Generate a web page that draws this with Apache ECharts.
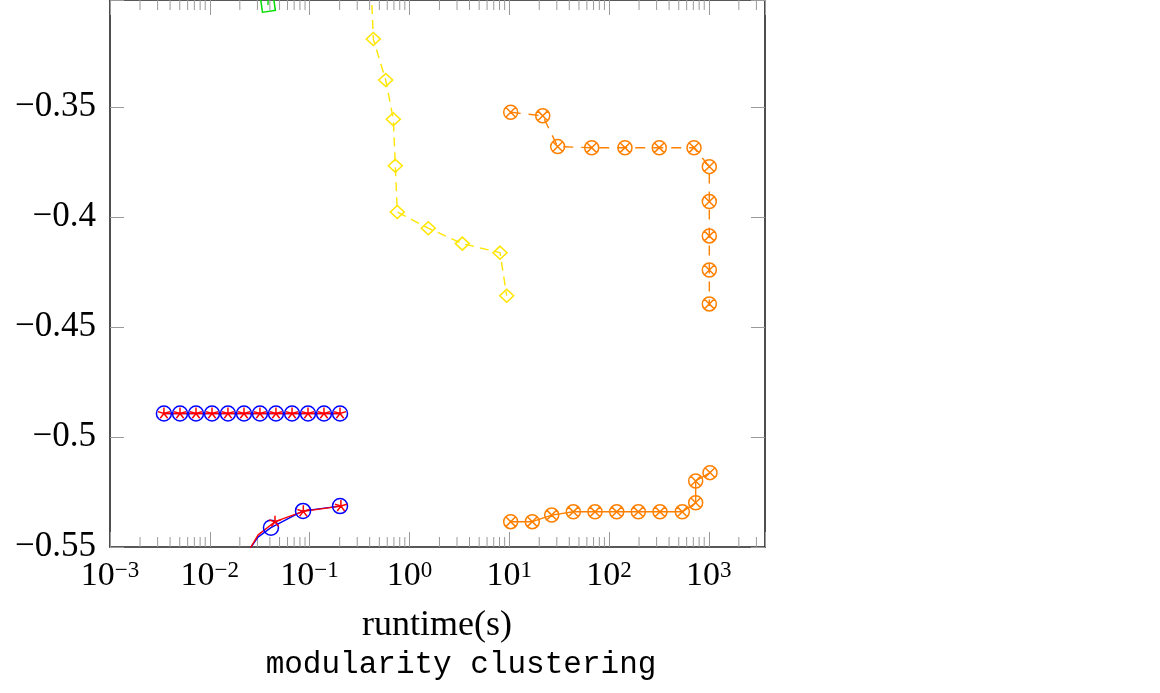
<!DOCTYPE html>
<html>
<head>
<meta charset="utf-8">
<script src="https://cdn.jsdelivr.net/npm/echarts@6/dist/echarts.min.js"></script>
<style>
html, body { margin: 0; padding: 0; background: #fff; }
#chart { width: 1160px; height: 693px; }
</style>
</head>
<body>
<div id="chart"></div>
<script>
// flat run (blue circles + red stars)
const flatX = [0.00347, 0.00503, 0.00727, 0.01052, 0.0152, 0.0220, 0.0318, 0.0460, 0.0667, 0.0964, 0.1393, 0.2018]
const flatY = [-0.4893, -0.4893, -0.4893, -0.4893, -0.4893, -0.4893, -0.4893, -0.4893, -0.4893, -0.4893, -0.4893, -0.4893]

// rising curves near the bottom
const blueX = [0.0235, 0.0259, 0.0304, 0.041, 0.0859, 0.2018]
const blueY = [-0.556, -0.5500, -0.5455, -0.5412, -0.5336, -0.5314]
const redX = [0.023, 0.0255, 0.0305, 0.045, 0.0865, 0.206]
const redY = [-0.557, -0.5505, -0.5445, -0.5385, -0.5338, -0.5314]

// green (only one mark in view)
const greenX = [0.0383, 0.0386]
const greenY = [-0.3036, -0.29]

// yellow dashed
const yellowX = [0.4095, 0.4348, 0.5786, 0.6897, 0.7225, 0.7562, 1.547, 3.389, 8.087, 9.44]
const yellowY = [-0.29, -0.3191, -0.3377, -0.3556, -0.3767, -0.3977, -0.4051, -0.4121, -0.4162, -0.4358]

// orange dashed (upper)
const orangeTopX = [10.35, 21.67, 30.6, 67.1, 144.6, 319, 710.9, 1012, 1012, 1012, 1012, 1012]
const orangeTopY = [-0.3524, -0.3540, -0.3680, -0.3685, -0.3685, -0.3685, -0.3685, -0.3771, -0.3930, -0.4086, -0.4241, -0.4395]

// orange solid (lower)
const orangeBotX = [10.35, 17.04, 26.67, 43.9, 72.4, 119.4, 196.7, 324.3, 542.7, 739, 739, 1028]
const orangeBotY = [-0.5385, -0.5385, -0.5355, -0.5340, -0.5340, -0.5340, -0.5340, -0.5340, -0.5340, -0.5299, -0.5200, -0.5162]

// axes
const xMin = 0.001
const xMax = 3657
const yMin = -0.55
const yMax = -0.30136
const yStep = 0.05
const decades = [0.001, 0.01, 0.1, 1, 10, 100, 1000]
const minorSteps = [2, 3, 4, 5, 6, 7, 8, 9]

const minorTicks = []
decades.forEach(d => minorSteps.forEach(m => {
  const v = d * m
  if (v < xMax) minorTicks.push(v)
}))

const zip = (xs, ys) => xs.map((x, i) => [x, ys[i]])

const starPath = 'path://M10,10L10,0M10,10L19.51,6.91M10,10L15.88,18.09M10,10L4.12,18.09M10,10L0.49,6.91M10,20L10,20'
const otimesPath = 'path://M0,10A10,10,0,1,1,20,10A10,10,0,1,1,0,10ZM2.93,2.93L17.07,17.07M17.07,2.93L2.93,17.07'

const serif = '"Liberation Serif", "DejaVu Serif", serif'
const tickGrey = '#9a9a9a'
const spine = { show: true, onZero: false, lineStyle: { color: '#222', width: 1.6 } }

const xLabel = (v) => {
  const e = Math.log10(v)
  if (Math.abs(e - Math.round(e)) > 1e-6) return ''
  const n = Math.round(e)
  return '{b|10}{s|' + (n < 0 ? '\u2212' + (-n) : n) + '}'
}
const yLabel = (v) => {
  const k = v / yStep
  if (Math.abs(k - Math.round(k)) > 1e-6) return ''
  const r = Math.round(v * 100) / 100
  return String(r).replace('-', '\u2212')
}

const lineSeries = (name, xs, ys, color, symbol, size, dash, extra) => Object.assign({
  name,
  type: 'line',
  data: zip(xs, ys),
  symbol,
  symbolSize: size,
  showAllSymbol: true,
  clip: true,
  lineStyle: { color, width: 1.4, type: dash },
  itemStyle: { color: 'transparent', borderColor: color, borderWidth: 1.5 },
  emphasis: { disabled: true },
  animation: false
}, extra || {})

const chart = echarts.init(document.getElementById('chart'))
const option = {
  backgroundColor: '#fff',
  animation: false,
  grid: { left: 110, top: 0, width: 655, height: 547 },
  xAxis: [
    {
      type: 'log',
      min: xMin,
      max: xMax,
      position: 'bottom',
      axisLine: spine,
      axisTick: { show: true, inside: true, length: 15, lineStyle: { color: tickGrey, width: 1 } },
      splitLine: { show: false },
      axisLabel: {
        margin: 12,
        formatter: xLabel,
        rich: {
          b: { fontFamily: serif, fontSize: 34, color: '#000', lineHeight: 34 },
          s: { fontFamily: serif, fontSize: 23, color: '#000', lineHeight: 23, verticalAlign: 'top' }
        }
      }
    },
    {
      type: 'log',
      min: xMin,
      max: xMax,
      position: 'top',
      axisLine: spine,
      axisTick: { show: true, inside: true, length: 15, lineStyle: { color: tickGrey, width: 1 } },
      splitLine: { show: false },
      axisLabel: { show: false }
    }
  ],
  yAxis: [
    {
      type: 'value',
      min: yMin,
      max: yMax,
      interval: yStep,
      position: 'left',
      axisLine: spine,
      axisTick: { show: true, inside: true, length: 14, lineStyle: { color: tickGrey, width: 1 } },
      splitLine: { show: false },
      axisLabel: { margin: 14, formatter: yLabel, fontFamily: serif, fontSize: 35, color: '#000' }
    },
    {
      type: 'value',
      min: yMin,
      max: yMax,
      interval: yStep,
      position: 'right',
      axisLine: spine,
      axisTick: { show: true, inside: true, length: 14, lineStyle: { color: tickGrey, width: 1 } },
      splitLine: { show: false },
      axisLabel: { show: false }
    }
  ],
  series: [
    {
      type: 'custom',
      silent: true,
      data: minorTicks.map(v => [v, -0.5]),
      renderItem: (params, api) => {
        const x = api.coord([api.value(0), -0.5])[0]
        const top = params.coordSys.y
        const bottom = top + params.coordSys.height
        const st = { stroke: tickGrey, lineWidth: 1 }
        return {
          type: 'group',
          children: [
            { type: 'line', shape: { x1: x, y1: bottom, x2: x, y2: bottom - 10 }, style: st },
            { type: 'line', shape: { x1: x, y1: top, x2: x, y2: top + 10 }, style: st }
          ]
        }
      }
    },
    lineSeries('blue flat', flatX, flatY, '#0000ff', 'circle', 15, 'solid'),
    lineSeries('red flat', flatX, flatY, '#ff0000', starPath, 12, 'solid'),
    lineSeries('blue curve', blueX, blueY, '#0000ff', 'circle', (v, p) => (p.dataIndex < 3 ? 0 : 15), 'solid'),
    lineSeries('red curve', redX, redY, '#ff0000', starPath, (v, p) => (p.dataIndex < 3 ? 0 : 12), 'solid'),
    lineSeries('green', greenX, greenY, '#00dd00', 'rect', 13, 'solid', { symbolRotate: 8 }),
    lineSeries('yellow', yellowX, yellowY, '#ffe600', 'diamond', [14, 13], [9, 6]),
    lineSeries('orange top', orangeTopX, orangeTopY, '#ff8000', otimesPath, 14, [10, 8]),
    lineSeries('orange bottom', orangeBotX, orangeBotY, '#ff8000', otimesPath, 14, 'solid')
  ],
  graphic: [
    {
      type: 'text',
      x: 437,
      y: 626,
      silent: true,
      style: { text: 'runtime(s)', fontFamily: serif, fontSize: 36, fill: '#000', align: 'center', verticalAlign: 'middle' }
    },
    {
      type: 'text',
      x: 461,
      y: 665,
      silent: true,
      style: { text: 'modularity clustering', fontFamily: '"Liberation Mono", "DejaVu Sans Mono", monospace', fontSize: 31, fill: '#000', align: 'center', verticalAlign: 'middle' }
    }
  ]
}
chart.setOption(option)
</script>
</body>
</html>
